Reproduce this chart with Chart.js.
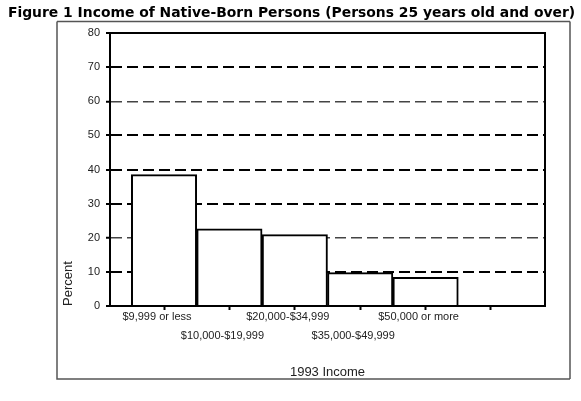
<!DOCTYPE html>
<html>
<head>
<meta charset="utf-8">
<script src="https://cdn.jsdelivr.net/npm/chart.js@4.4.0/dist/chart.umd.min.js"></script>
<style>
    body { margin: 0; background: #fff; }
    #wrap { width: 581px; height: 401px; }
</style>
</head>
<body>
<div id="wrap"><canvas id="graficoIngresos" width="581" height="401"></canvas></div>
<script>
// datos
let titulo = 'Figure 1 Income of Native-Born Persons (Persons 25 years old and over)';
let categorias = ['$9,999 or less', '$10,000-$19,999', '$20,000-$34,999', '$35,000-$49,999', '$50,000 or more', ''];
let porcentajes = [38.5, 22.6, 20.9, 9.8, 8.4];
let yMin = 0;
let yMax = 80;
let yPaso = 10;

let puntos = [];
porcentajes.forEach(function(v, i) {
    puntos.push({ x: i, y: v });
});

// titulo, marco exterior y borde del area de la grafica
let marcoPlugin = {
    id: 'marco',
    afterDraw: function(chart) {
        let ctx = chart.ctx;
        let a = chart.chartArea;
        ctx.save();
        ctx.fillStyle = '#000';
        ctx.font = "bold 13.9px 'DejaVu Sans'";
        ctx.textAlign = 'center';
        ctx.textBaseline = 'alphabetic';
        ctx.fillText(titulo, 291.5, 17);

        ctx.strokeStyle = '#555';
        ctx.lineWidth = 1.5;
        ctx.beginPath();
        ctx.moveTo(57, 21.5);
        ctx.lineTo(570, 21.5);
        ctx.moveTo(57, 21.5);
        ctx.lineTo(57, 379);
        ctx.lineTo(570, 379);
        ctx.moveTo(570, 21.5);
        ctx.lineTo(570, 379);
        ctx.stroke();

        ctx.strokeStyle = '#000';
        ctx.lineWidth = 2;
        ctx.strokeRect(a.left, a.top, a.right - a.left, a.bottom - a.top);
        ctx.restore();
    }
};

let ctx = document.getElementById('graficoIngresos').getContext('2d');
let chartIngresos = new Chart(ctx, {
    type: 'bar',
    data: {
        datasets: [{
            data: puntos,
            backgroundColor: '#fff',
            borderColor: '#000',
            borderWidth: 2,
            barPercentage: 1,
            categoryPercentage: 1
        }]
    },
    plugins: [marcoPlugin],
    options: {
        responsive: false,
        animation: false,
        layout: { padding: { left: 58, right: 36, top: 33, bottom: 21 } },
        plugins: {
            legend: { display: false },
            tooltip: { enabled: false },
            title: { display: false }
        },
        scales: {
            x: {
                type: 'linear',
                offset: false,
                min: -0.826,
                max: 5.826,
                afterBuildTicks: function(scale) {
                    scale.ticks = categorias.map(function(c, i) { return { value: i }; });
                },
                afterFit: function(scale) { scale.height = 74; },
                ticks: {
                    color: '#222',
                    font: { family: 'Liberation Sans', size: 11, lineHeight: 1.7 },
                    padding: -2,
                    labelOffset: -7,
                    maxRotation: 0,
                    autoSkip: false,
                    callback: function(value) {
                        let txt = categorias[value];
                        if (txt === undefined) return '';
                        return (value % 2 === 1) ? ['', txt] : txt;
                    }
                },
                grid: {
                    offset: false,
                    drawOnChartArea: false,
                    drawTicks: true,
                    tickLength: 4,
                    tickColor: '#000',
                    tickWidth: 2
                },
                border: { display: true, color: '#000', width: 2 },
                title: {
                    display: true,
                    text: '1993 Income',
                    color: '#222',
                    font: { family: 'Liberation Sans', size: 13 },
                    padding: { top: 0, bottom: 0 }
                }
            },
            y: {
                min: yMin,
                max: yMax,
                afterFit: function(scale) { scale.width = 52; },
                ticks: {
                    stepSize: yPaso,
                    color: '#222',
                    font: { family: 'Liberation Sans', size: 11 },
                    padding: 6
                },
                grid: {
                    color: function(c) {
                        let v = c.tick ? c.tick.value : 0;
                        if (v === 0 || v === 80) return 'rgba(0,0,0,0)';
                        if (v === 60 || v === 20) return '#444';
                        return '#000';
                    },
                    lineWidth: function(c) {
                        let v = c.tick ? c.tick.value : 0;
                        if (v === 60 || v === 20) return 1.5;
                        return 2;
                    },
                    tickLength: 4,
                    tickColor: '#000',
                    tickWidth: 2
                },
                border: { display: true, color: '#000', width: 2, dash: [11, 5] },
                title: {
                    display: true,
                    text: 'Percent',
                    align: 'start',
                    color: '#222',
                    font: { family: 'Liberation Sans', size: 13 },
                    padding: { top: 3, bottom: 0 }
                }
            }
        }
    }
});
</script>
</body>
</html>
